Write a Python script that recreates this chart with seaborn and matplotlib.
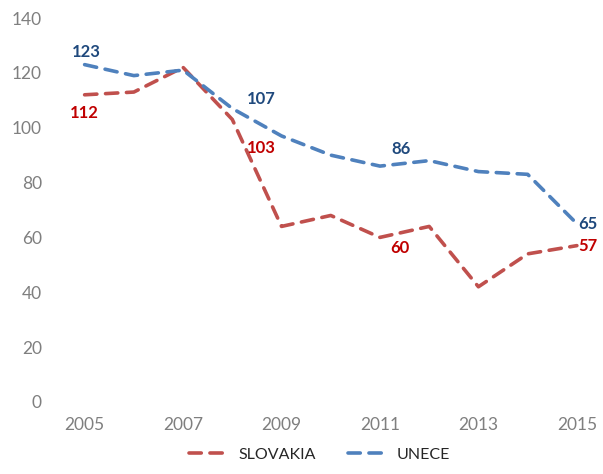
"""
Slovakia vs UNECE index, dashed line chart
"""

import pandas as pd
import matplotlib
matplotlib.use("Agg")
import matplotlib.pyplot as plt
import seaborn as sns

years = [2005, 2006, 2007, 2008, 2009, 2010, 2011, 2012, 2013, 2014, 2015]
slovakia = [112, 113, 122, 103, 64, 68, 60, 64, 42, 54, 57]
unece = [123, 119, 121, 107, 97, 90, 86, 88, 84, 83, 65]
series_names = ['SLOVAKIA', 'UNECE']
x_ticks = [2005, 2007, 2009, 2011, 2013, 2015]
y_ticks = [0, 20, 40, 60, 80, 100, 120, 140]

# labelled points: (year, offset in points, horizontal alignment)
labels_slovakia = [(2005, (0, -13), 'center'), (2008, (21, -20.5), 'center'),
                   (2011, (14.5, -7.6), 'center'), (2015, (1, -0.5), 'left')]
labels_unece = [(2005, (1.5, 9.4), 'center'), (2008, (21, 7), 'center'),
                (2011, (15, 12), 'center'), (2015, (1, -0.5), 'left')]

line_colors = {'SLOVAKIA': '#C0504D', 'UNECE': '#4F81BD'}
text_colors = {'SLOVAKIA': '#C00000', 'UNECE': '#1F497D'}

df = pd.DataFrame({
    'year': years * 2,
    'value': slovakia + unece,
    'series': ['SLOVAKIA'] * len(years) + ['UNECE'] * len(years),
})

sns.set_style('white')
plt.rcParams['font.family'] = ['Lato', 'DejaVu Sans']

fig = plt.figure(figsize=(6.03, 4.74), dpi=100)
ax = fig.add_axes([0.0995, 0.152, 0.898, 0.81])

dash = (3.4, 2.4)
sns.lineplot(data=df, x='year', y='value', hue='series', style='series',
             palette=line_colors, dashes={'SLOVAKIA': dash, 'UNECE': dash},
             linewidth=2.6, ax=ax, legend=True)
for line in ax.lines:
    line.set_dash_capstyle('round')

ax.set_xlim(2004.5, 2015.5)
ax.set_ylim(0, 140)
ax.set_xticks(x_ticks)
ax.set_yticks(y_ticks)
ax.set_xlabel('')
ax.set_ylabel('')
ax.tick_params(axis='both', colors='#7F7F7F', labelsize=12.5, length=0)
ax.tick_params(axis='x', pad=11)
ax.tick_params(axis='y', pad=13)
for side in ['top', 'right', 'bottom', 'left']:
    ax.spines[side].set_visible(False)
ax.grid(False)

for name, vals, labs in [('SLOVAKIA', slovakia, labels_slovakia),
                         ('UNECE', unece, labels_unece)]:
    for yr, off, ha in labs:
        v = vals[years.index(yr)]
        ax.annotate(str(v), (yr, v), xytext=off, textcoords='offset points',
                    ha=ha, va='center', fontsize=12, fontweight='bold',
                    color=text_colors[name], annotation_clip=False)

handles, labs = ax.get_legend_handles_labels()
ax.get_legend().remove()
for h in handles:
    h.set_dash_capstyle('round')
fig.legend(handles, labs, loc='lower center', bbox_to_anchor=(0.53, -0.005), ncol=2,
           frameon=False, fontsize=11.5, handlelength=2.15, handletextpad=0.9,
           columnspacing=2.0, labelcolor='#262626')

fig.savefig('out.png', dpi=100)
